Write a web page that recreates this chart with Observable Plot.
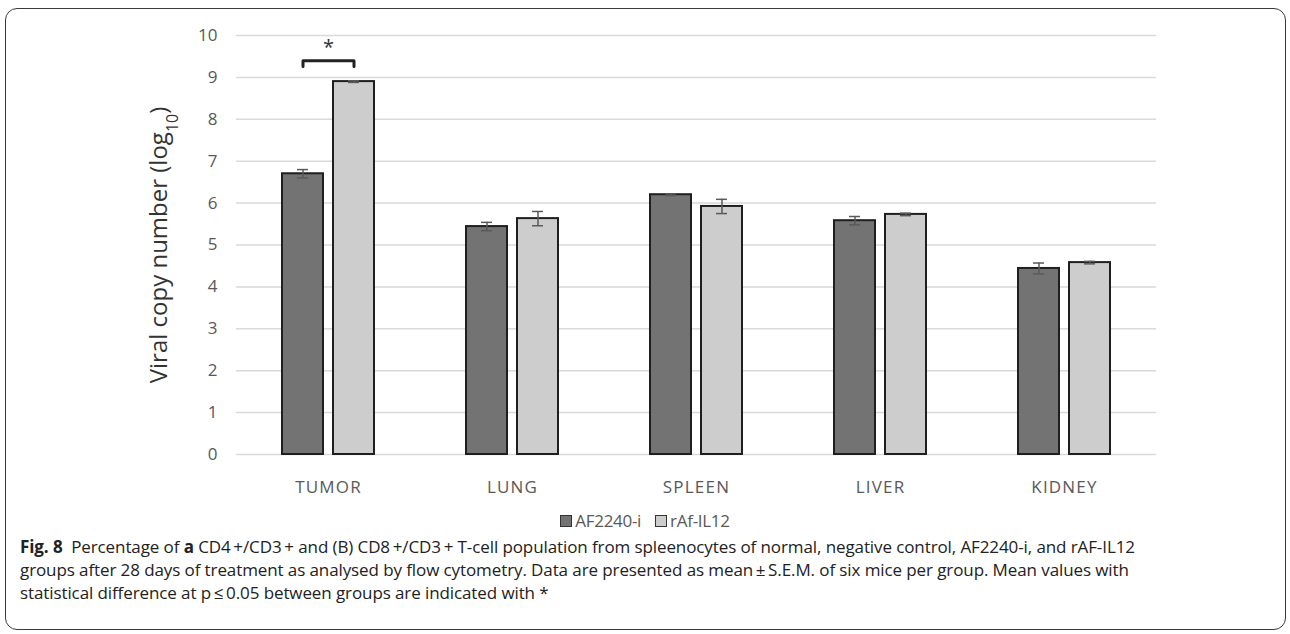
<!DOCTYPE html>
<html>
<head>
<meta charset="utf-8">
<script src="https://cdn.jsdelivr.net/npm/d3@7"></script>
<script src="https://cdn.jsdelivr.net/npm/@observablehq/plot@0.6"></script>
<style>
  html, body { margin:0; padding:0; background:#fff; }
  body { width:1290px; height:634px; position:relative; overflow:hidden; font-family:"Open Sans", sans-serif; }
  #frame { position:absolute; left:5px; top:8px; width:1281px; height:622px; box-sizing:border-box; border:1.5px solid #3a3a3a; border-radius:12px; }
  #chart { position:absolute; left:0; top:0; }
  #legend { position:absolute; left:0; top:509px; width:1290px; text-align:center; font-size:17px; color:#595959; letter-spacing:-0.3px; }
  #legend .sw { display:inline-block; width:10px; height:10px; border:1.5px solid #333; margin-right:3px; vertical-align:0px; }
  #legend .item { margin:0 7px; }
  #caption { position:absolute; left:20px; top:535px; font-size:17px; line-height:23px; color:#222; white-space:nowrap; letter-spacing:-0.1px; }
</style>
</head>
<body>
<div id="frame"></div>
<div id="chart"></div>
<div id="legend"></div>
<div id="caption">
<b>Fig. 8</b>&nbsp; Percentage of <b>a</b> CD4&#8201;+/CD3&#8201;+ and (B) CD8&#8201;+/CD3&#8201;+ T-cell population from spleenocytes of normal, negative control, AF2240-i, and rAF-IL12<br>
groups after 28 days of treatment as analysed by flow cytometry. Data are presented as mean&#8201;±&#8201;S.E.M. of six mice per group. Mean values with<br>
statistical difference at p&#8201;≤&#8201;0.05 between groups are indicated with *
</div>
<script>
const categories = ["TUMOR", "LUNG", "SPLEEN", "LIVER", "KIDNEY"];
const series = ["AF2240-i", "rAf-IL12"];
const afValues = [6.70, 5.44, 6.20, 5.58, 4.44];
const afErrors = [0.10, 0.10, 0.02, 0.10, 0.13];
const ilValues = [8.90, 5.63, 5.92, 5.73, 4.58];
const ilErrors = [0.02, 0.17, 0.17, 0.03, 0.03];
const yTicks = [0, 1, 2, 3, 4, 5, 6, 7, 8, 9, 10];
const seriesColors = ["#737373", "#cdcdcd"];
const yTitle = "Viral copy number (log10)";
const sigCategory = "TUMOR";
const bracketLow = 9.26;
const bracketHigh = 9.40;
const starY = 9.70;

const data = [];
categories.forEach((c, i) => {
  data.push({cat: c, series: series[0], value: afValues[i], err: afErrors[i]});
  data.push({cat: c, series: series[1], value: ilValues[i], err: ilErrors[i]});
});
const bracket = [
  {cat: sigCategory, series: series[0], y: bracketLow},
  {cat: sigCategory, series: series[0], y: bracketHigh},
  {cat: sigCategory, series: series[1], y: bracketHigh},
  {cat: sigCategory, series: series[1], y: bracketLow}
];

const plot = Plot.plot({
  width: 1290,
  height: 504,
  marginLeft: 235,
  marginRight: 133,
  marginTop: 35,
  marginBottom: 50,
  style: {fontFamily: "'Open Sans', sans-serif", background: "transparent", overflow: "visible"},
  fx: {domain: categories, padding: 0, label: null},
  x: {domain: series, paddingInner: 0.2, paddingOuter: 0.9, axis: null},
  y: {domain: [0, 10], label: null},
  color: {domain: series, range: seriesColors},
  marks: [
    Plot.gridY(yTicks, {stroke: "#d9d9d9", strokeOpacity: 1, strokeWidth: 1.5}),
    Plot.axisY(yTicks, {tickSize: 0, tickPadding: 19, fontSize: 17, fill: "#595959", label: null}),
    Plot.barY(data, {fx: "cat", x: "series", y: "value", fill: "series", stroke: "#1f1f1f", strokeWidth: 2}),
    Plot.ruleX(data, {fx: "cat", x: "series", y1: d => d.value - d.err, y2: d => d.value + d.err, stroke: "#5a5a5a", strokeWidth: 1.5}),
    Plot.tickY(data, {fx: "cat", x: "series", y: d => d.value + d.err, stroke: "#5a5a5a", strokeWidth: 1.5, insetLeft: 15, insetRight: 15}),
    Plot.tickY(data, {fx: "cat", x: "series", y: d => d.value - d.err, stroke: "#5a5a5a", strokeWidth: 1.5, insetLeft: 15, insetRight: 15}),
    Plot.axisFx({anchor: "bottom", tickSize: 0, tickPadding: 26, fontSize: 17, fill: "#595959", label: null}),
    Plot.line(bracket, {fx: "cat", x: "series", y: "y", stroke: "#222", strokeWidth: 3}),
    Plot.text([{cat: sigCategory, t: "*"}], {fx: "cat", y: () => starY, text: "t", fontSize: 20, fill: "#333"}),
    Plot.text([{cat: categories[0], t: yTitle}], {fx: "cat", text: "t", frameAnchor: "left", textAnchor: "middle", rotate: -90, dx: -77, fontSize: 24, fill: "#333"})
  ]
});
document.getElementById("chart").appendChild(plot);

// letter spacing on category labels
d3.select(plot).selectAll("text").each(function() {
  if (categories.includes(this.textContent)) d3.select(this).attr("letter-spacing", "1.2px");
});

// subscript in the y title
d3.select(plot).selectAll("text").each(function() {
  if (this.textContent === yTitle) {
    const t = d3.select(this);
    t.text(null);
    t.append("tspan").text("Viral copy number (log");
    t.append("tspan").attr("baseline-shift", "sub").attr("font-size", "16").text("10");
    t.append("tspan").text(")");
  }
});

const legend = document.getElementById("legend");
series.forEach((s, i) => {
  const item = document.createElement("span");
  item.className = "item";
  const sw = document.createElement("span");
  sw.className = "sw";
  sw.style.background = seriesColors[i];
  item.appendChild(sw);
  item.appendChild(document.createTextNode(s));
  legend.appendChild(item);
});
</script>
</body>
</html>
